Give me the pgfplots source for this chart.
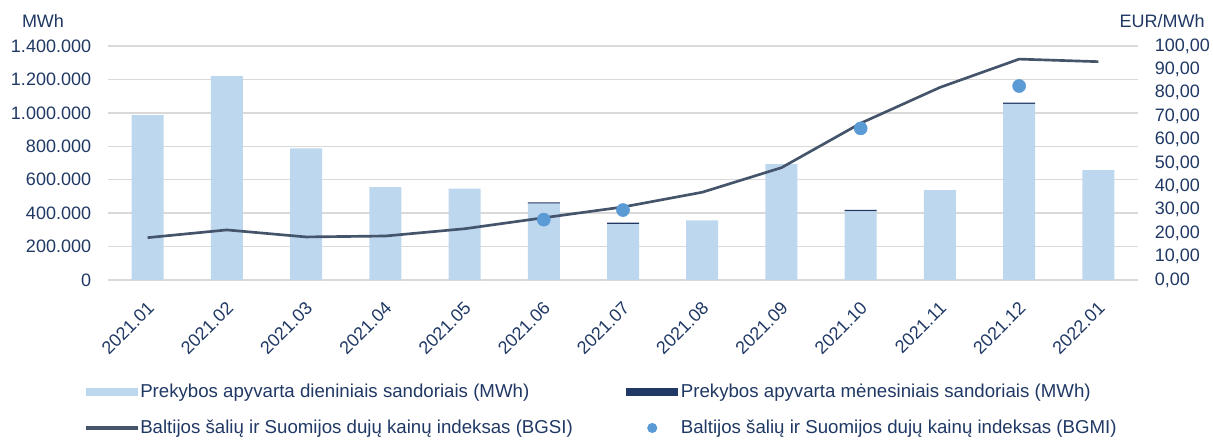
\documentclass[border=0pt]{standalone}
\usepackage{pgfplots}
\pgfplotsset{compat=1.18}
\usepackage{pgfplotstable}
\usepackage{fontspec}
\setmainfont{Liberation Sans}
\definecolor{barlight}{HTML}{BDD7EE}
\definecolor{bardark}{HTML}{1F3864}
\definecolor{linecol}{HTML}{44546A}
\definecolor{dotcol}{HTML}{5B9BD5}
\definecolor{txt}{HTML}{1F3864}
\definecolor{gridcol}{HTML}{D9D9D9}

\pgfplotstableread{
x daily monthly bgsi bgmi
0 987000 0 18.1 nan
1 1220000 0 21.4 nan
2 788000 0 18.4 nan
3 556000 0 18.8 nan
4 546000 0 21.9 nan
5 457000 8000 26.6 25.8
6 335000 8000 31.2 29.9
7 357000 0 37.5 nan
8 694000 0 48.0 nan
9 411000 8000 67.0 64.8
10 538000 0 82.3 nan
11 1053000 8000 94.4 82.9
12 658000 0 93.3 nan
}\data

\begin{document}
\fontsize{13.5pt}{16pt}\selectfont
\begin{tikzpicture}
\pgfplotsset{
  base/.style={
    at={(0,0)}, anchor=south west,
    scale only axis, width=772.5pt, height=175.5pt,
    xmin=-0.5, xmax=12.5,
    axis line style={draw=none},
    major tick length=0pt,
    tick label style={text=txt, font=\fontsize{13.5pt}{16pt}\selectfont},
    /pgf/number format/assume math mode=true,
    clip=false,
  }
}
\begin{axis}[base,
  ymin=0, ymax=1400000,
  ytick={0,200000,400000,600000,800000,1000000,1200000,1400000},
  scaled y ticks=false,
  yticklabel style={/pgf/number format/.cd, fixed, 1000 sep={.}, /tikz/.cd, xshift=-8pt},
  ymajorgrids, grid style={color=gridcol, line width=1.1pt},
  xtick={0,...,12},
  xticklabels={2021.01,2021.02,2021.03,2021.04,2021.05,2021.06,2021.07,2021.08,2021.09,2021.10,2021.11,2021.12,2022.01},
  xticklabel style={rotate=45, anchor=east, yshift=-15pt, xshift=-7pt},
  ybar stacked, bar width=24pt,
  legend columns=2,
  legend cell align=left,
  legend style={at={(rel axis cs:0,0)}, anchor=north west, xshift=-17pt, yshift=-76pt,
    draw=none, fill=none, inner sep=0pt, row sep=10.5pt,
    font=\fontsize{14pt}{16pt}\selectfont, text=txt,
    /tikz/every even column/.append style={column sep=38pt}},
]
\addplot[fill=barlight, draw=none,
  legend image code/.code={\fill[barlight] (0pt,-3pt) rectangle (39pt,3pt);}]
  table[x=x, y=daily] {\data};
\addlegendentry{Prekybos apyvarta dieniniais sandoriais (MWh)}
\addplot[fill=bardark, draw=none,
  legend image code/.code={\fill[bardark] (0pt,-3pt) rectangle (39pt,3pt);}]
  table[x=x, y=monthly] {\data};
\addlegendentry{Prekybos apyvarta mėnesiniais sandoriais (MWh)}
\addlegendimage{legend image code/.code={\fill[linecol, draw=none] (0pt,-1.3pt) rectangle (39pt,1.3pt);}}
\addlegendentry{Baltijos šalių ir Suomijos dujų kainų indeksas (BGSI)}
\addlegendimage{legend image code/.code={\path[draw=none, fill=none] (0pt,0pt) -- (39pt,0pt); \fill[dotcol, draw=none] (19.5pt,0pt) circle (3.8pt);}}
\addlegendentry{Baltijos šalių ir Suomijos dujų kainų indeksas (BGMI)}
\node[text=txt, anchor=base, xshift=-48.75pt, yshift=13.5pt] at (rel axis cs:0,1) {MWh};
\end{axis}
\begin{axis}[base,
  axis y line*=right, axis x line=none,
  ymin=0, ymax=100,
  ytick={0,10,...,100},
  yticklabel style={/pgf/number format/.cd, fixed, fixed zerofill, precision=2, use comma, /tikz/.cd, xshift=8pt},
]
\addplot[linecol, line width=2pt, mark=none] table[x=x, y=bgsi] {\data};
\addplot[only marks, mark=*, mark size=4.9pt, dotcol, mark options={draw=none, fill=dotcol}] table[x=x, y=bgmi] {\data};
\node[text=txt, anchor=base, xshift=18pt, yshift=13.5pt] at (rel axis cs:1,1) {EUR/MWh};
\end{axis}
\pgfresetboundingbox
\useasboundingbox (-81pt,-119.25pt) rectangle (828.75pt,210pt);
\end{tikzpicture}
\end{document}
